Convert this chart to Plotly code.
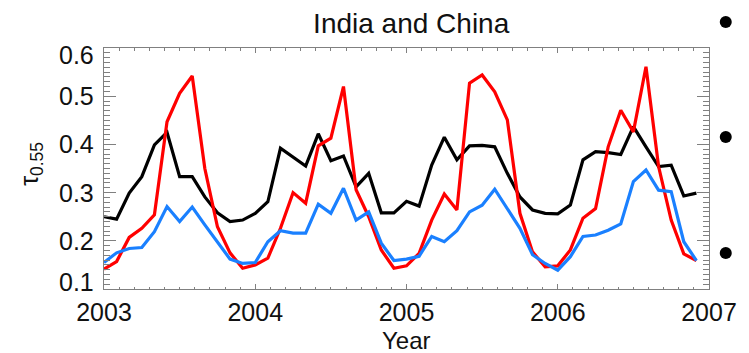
import plotly.graph_objects as go

# Monthly aerosol optical depth at 0.55 um, Jan 2003 - Dec 2006
years = [2003, 2004, 2005, 2006]
months = list(range(12))

black_tau = [
    0.250, 0.245, 0.299, 0.333, 0.399, 0.425, 0.333, 0.333, 0.291, 0.258, 0.240, 0.243,
    0.257, 0.281, 0.392, 0.374, 0.355, 0.422, 0.366, 0.376, 0.312, 0.340, 0.258, 0.258,
    0.282, 0.272, 0.357, 0.415, 0.368, 0.397, 0.398, 0.395, 0.340, 0.291, 0.264, 0.257,
    0.256, 0.274, 0.368, 0.385, 0.383, 0.379, 0.437, 0.395, 0.354, 0.357, 0.293, 0.299,
]
red_tau = [
    0.141, 0.157, 0.207, 0.226, 0.254, 0.447, 0.506, 0.542, 0.350, 0.229, 0.175, 0.143,
    0.150, 0.164, 0.226, 0.300, 0.278, 0.397, 0.413, 0.520, 0.306, 0.250, 0.181, 0.143,
    0.148, 0.174, 0.243, 0.297, 0.264, 0.527, 0.544, 0.509, 0.451, 0.257, 0.177, 0.146,
    0.148, 0.181, 0.247, 0.267, 0.395, 0.471, 0.426, 0.561, 0.354, 0.243, 0.173, 0.159,
]
blue_tau = [
    0.155, 0.175, 0.184, 0.186, 0.219, 0.271, 0.240, 0.270, 0.233, 0.198, 0.162, 0.153,
    0.155, 0.198, 0.221, 0.216, 0.216, 0.276, 0.257, 0.309, 0.243, 0.260, 0.195, 0.159,
    0.162, 0.168, 0.209, 0.198, 0.221, 0.260, 0.274, 0.307, 0.267, 0.226, 0.171, 0.153,
    0.139, 0.167, 0.209, 0.212, 0.222, 0.235, 0.323, 0.347, 0.305, 0.302, 0.198, 0.159,
]

x_ticks = [2003, 2004, 2005, 2006, 2007]
y_ticks = [0.1, 0.2, 0.3, 0.4, 0.5, 0.6]
y_tick_text = ["0.1", "0.2", "0.3", "0.4", "0.5", "0.6"]

time = [y + m / 12 for y in years for m in months]

FONT = "Liberation Sans, Arial, Helvetica, sans-serif"
FRAME = "#808080"

fig = go.Figure()
for vals, col in [(black_tau, "black"), (red_tau, "#ff0000"), (blue_tau, "#1a80ff")]:
    fig.add_trace(go.Scatter(x=time, y=vals, mode="lines",
                             line=dict(color=col, width=3.2), showlegend=False,
                             hoverinfo="skip"))

fig.update_layout(
    width=749, height=353,
    margin=dict(l=104, r=31, t=48, b=64),
    paper_bgcolor="white", plot_bgcolor="white",
    font=dict(family=FONT, color="#111111", size=25),
    title=dict(text="India and China", x=0.549, xanchor="center",
               y=0.935, yanchor="middle", font=dict(size=28, family=FONT)),
)

fig.update_xaxes(
    range=[2003, 2007], tickvals=x_ticks, ticktext=[str(v) for v in x_ticks],
    ticks="inside", ticklen=5, tickwidth=1, tickcolor=FRAME,
    showline=True, linecolor=FRAME, linewidth=1, mirror="ticks",
    showgrid=False, zeroline=False, ticklabelstandoff=1,
    tickfont=dict(size=25, family=FONT),
    minor=dict(dtick=0.1, tick0=2003, ticks="inside", ticklen=2.5,
               tickcolor=FRAME, showgrid=False),
)
fig.update_yaxes(
    range=[0.1, 0.6], tickvals=y_ticks, showticklabels=False,
    ticks="inside", ticklen=12, tickwidth=1, tickcolor=FRAME,
    showline=True, linecolor=FRAME, linewidth=1, mirror="ticks",
    showgrid=False, zeroline=False,
    minor=dict(dtick=0.01, tick0=0.1, ticks="inside", ticklen=6,
               tickcolor=FRAME, showgrid=False),
)

# y tick labels; the end labels sit slightly inside the frame
ann = []
for v, t in zip(y_ticks, y_tick_text):
    shift = 0
    if v == y_ticks[0]:
        shift = 7
    elif v == y_ticks[-1]:
        shift = -7
    ann.append(dict(x=0, xref="paper", xanchor="right", xshift=-8,
                    y=v, yref="y", yanchor="middle", yshift=shift,
                    text=t, showarrow=False, font=dict(size=25, family=FONT)))

ann.append(dict(x=-0.122, xref="paper", y=0.52, yref="paper",
                text="τ<sub>0.55</sub>", textangle=-90, showarrow=False,
                xanchor="center", yanchor="middle",
                font=dict(size=25, family=FONT)))
ann.append(dict(x=0.5, xref="paper", y=-0.212, yref="paper",
                text="Year", showarrow=False, xanchor="center", yanchor="middle",
                font=dict(size=24, family=FONT)))
fig.update_layout(annotations=ann)

# slide bullets to the right of the plot
for py in [1.108, 0.631, 0.149]:
    fig.add_shape(type="circle", xref="paper", yref="paper",
                  xsizemode="pixel", ysizemode="pixel",
                  xanchor=1.0277, yanchor=py, x0=-6, x1=6, y0=-6, y1=6,
                  fillcolor="black", line=dict(width=0))

fig.write_html("out.html")
